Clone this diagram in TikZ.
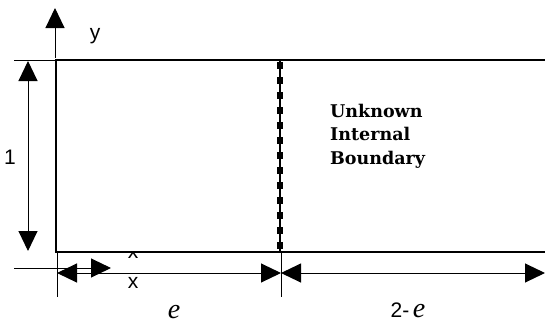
\documentclass[tikz,border=0pt]{standalone}
\usepackage{fontspec}
\setmainfont{Liberation Serif}
\setsansfont{Liberation Sans}
\newfontfamily\lbfont{DejaVu Serif}
\usetikzlibrary{arrows.meta}
\begin{document}
\begin{tikzpicture}[x=1pt,y=-1pt,
  thinline/.style={line width=1pt},
  boxline/.style={line width=2.2pt},
  bigtip/.style={-{Triangle[length=20pt,width=19pt]}},
  bothtips/.style={{Triangle[length=20pt,width=19pt]}-{Triangle[length=20pt,width=19pt]}},
  sanslab/.style={font=\sffamily\fontsize{21}{24}\selectfont, inner sep=0pt, anchor=base},
  itlab/.style={font=\itshape\fontsize{28}{32}\selectfont, inner sep=0pt, anchor=base},
  ]
\useasboundingbox (0,0) rectangle (545,324);
% coordinates
\coordinate (TL) at (56,60);
\coordinate (TR) at (545,60);
\coordinate (BL) at (56,252);
\coordinate (BR) at (545,252);
\coordinate (TLout) at (14,60);
\coordinate (Ybase) at (55,58);
\coordinate (Ytip) at (55,8);
\coordinate (OneT) at (28,61);
\coordinate (OneB) at (28,251);
\coordinate (DT) at (280,60);
\coordinate (DB) at (280,252);
\coordinate (Xstart) at (14,268);
\coordinate (Xtip) at (111,268);
\coordinate (D0) at (57,273);
\coordinate (D1) at (281,273);
\coordinate (D2) at (545,273);
\coordinate (T0a) at (57,252);
\coordinate (T0b) at (57,297);
\coordinate (T1a) at (281,252);
\coordinate (T1b) at (281,297);

% hidden x label (half covered by the box)
\node[sanslab] (xhid) at (133,258) {x};
% box
\fill[white] (TL) rectangle (BR);
\draw[thinline] (TLout) -- (TL);
\draw[boxline] (TR) -- (TL) -- (BL) -- (BR);
% dashed internal boundary
\draw[line width=2pt] (DT) -- (DB);
\draw[line width=6.5pt, dash pattern=on 7pt off 8pt, dash phase=-2pt] (DT) -- (DB);
% y axis
\draw[thinline,bigtip] (Ybase) -- (Ytip);
\node[sanslab] (ylab) at (95,39) {y};
% height dimension
\draw[thinline,bothtips] (OneT) -- (OneB);
\node[sanslab] (one) at (10,164) {1};
% x axis
\draw[thinline,bigtip] (Xstart) -- (Xtip);
\node[sanslab] (xlab) at (133,288) {x};
% ticks
\draw[thinline] (T0a) -- (T0b);
\draw[thinline] (T1a) -- (T1b);
% width dimensions
\draw[thinline,bothtips] (D0) -- (D1);
\draw[thinline,bothtips] (D1) -- (D2);
\node[itlab] (elab) at (174,318) {e};
\node[anchor=base, inner sep=0pt] (twoe) at (408,317) {\sffamily\fontsize{21}{24}\selectfont 2-\,\itshape\rmfamily\fontsize{28}{32}\selectfont e};
% text
\node[anchor=base west, inner sep=0pt, align=left, font=\lbfont\bfseries\fontsize{17.5}{23.5}\selectfont] (txt) at (330,164) {Unknown\\Internal\\Boundary};
\end{tikzpicture}
\end{document}
